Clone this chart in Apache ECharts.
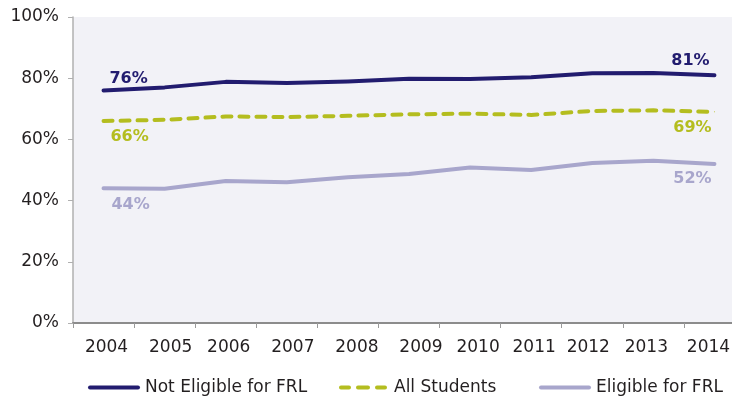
<!DOCTYPE html>
<html>
<head>
<meta charset="utf-8">
<script src="https://cdn.jsdelivr.net/npm/echarts@6/dist/echarts.min.js"></script>
<style>
  html, body { margin: 0; padding: 0; background: #ffffff; }
  #chart { width: 732px; height: 397px; }
</style>
</head>
<body>
<div id="chart"></div>
<script>
// School years on the horizontal axis
const years = ['2004', '2005', '2006', '2007', '2008', '2009', '2010', '2011', '2012', '2013', '2014'];

// Percentages per group
const notEligible = [76, 77, 78.8, 78.4, 78.9, 79.8, 79.7, 80.3, 81.6, 81.7, 81];
const allStudents = [66, 66.4, 67.5, 67.3, 67.7, 68.2, 68.4, 68.0, 69.3, 69.5, 69];
const eligible = [44, 43.9, 46.4, 46.0, 47.6, 48.7, 50.8, 50.0, 52.3, 53.0, 52];

const yTicks = [0, 20, 40, 60, 80, 100];

const FONT = 'DejaVu Sans';
const NAVY = '#221c6f';
const OLIVE = '#b4bd1f';
const LAVENDER = '#a8a6cc';

// Horizontal nudges (px) for each year label under its point
const labelNudge = [3, 6, 3, 6, 9, 12, 8, 3, -4, -7, -6];
const yearRich = {};
labelNudge.forEach(function (s, i) {
  yearRich['y' + i] = {
    fontFamily: FONT,
    fontSize: 17,
    color: '#231f20',
    padding: s >= 0 ? [0, 0, 0, 2 * s] : [0, -2 * s, 0, 0]
  };
});

// Legend swatches: a solid bar and a three-dash bar
const SOLID_ICON = 'path://M2,0H50A2,2 0 0 1 50,4H2A2,2 0 0 1 2,0Z';
const DASH_ICON = 'path://M2,0H10A2,2 0 0 1 10,4H2A2,2 0 0 1 2,0Z' +
  'M19,0H29A2,2 0 0 1 29,4H19A2,2 0 0 1 19,0Z' +
  'M38,0H46A2,2 0 0 1 46,4H38A2,2 0 0 1 38,0Z';

// Attach end-point labels (first and last year) to a series' data
function withEndLabels(values, color, firstOffset, lastOffset) {
  return values.map(function (v, i) {
    if (i === 0 || i === values.length - 1) {
      return {
        value: v,
        symbol: 'circle',
        symbolSize: 1,
        label: {
          show: true,
          position: 'inside',
          offset: i === 0 ? firstOffset : lastOffset,
          formatter: Math.round(v) + '%',
          color: color,
          fontFamily: FONT,
          fontWeight: 'bold',
          fontSize: 16
        }
      };
    }
    return v;
  });
}

function lineSeries(name, values, color, dashed, firstOffset, lastOffset) {
  return {
    name: name,
    type: 'line',
    data: withEndLabels(values, color, firstOffset, lastOffset),
    symbol: 'none',
    itemStyle: { color: color },
    lineStyle: {
      color: color,
      width: 4,
      type: dashed ? [9, 8] : 'solid',
      cap: 'round',
      join: 'round'
    },
    emphasis: { disabled: true },
    silent: true,
    z: dashed ? 3 : 2
  };
}

function legendAt(left, name, icon) {
  return {
    data: [{ name: name, icon: icon }],
    left: left,
    top: 379,
    padding: 0,
    itemWidth: 52,
    itemHeight: 4,
    selectedMode: false,
    textStyle: { fontFamily: FONT, fontSize: 17, color: '#231f20' }
  };
}

const chart = echarts.init(document.getElementById('chart'), null, { renderer: 'canvas' });

chart.setOption({
  animation: false,
  backgroundColor: '#ffffff',
  grid: {
    left: 73,
    right: -13,
    top: 17,
    bottom: 74,
    outerBoundsMode: 'none',
    containLabel: false,
    show: true,
    backgroundColor: '#f2f2f7',
    borderWidth: 0
  },
  legend: [
    legendAt(88, 'Not Eligible for FRL', SOLID_ICON),
    legendAt(339, 'All Students', DASH_ICON),
    legendAt(539, 'Eligible for FRL', SOLID_ICON)
  ],
  xAxis: {
    type: 'category',
    data: years,
    boundaryGap: true,
    axisLine: { lineStyle: { color: '#8c8c8c', width: 2 } },
    axisTick: { show: true, interval: 0, length: 5, lineStyle: { color: '#9a9a9a', width: 1 } },
    axisLabel: {
      interval: 0,
      hideOverlap: false,
      fontFamily: FONT,
      fontSize: 17,
      color: '#231f20',
      margin: 16,
      formatter: function (value, index) { return '{y' + index + '|' + value + '}'; },
      rich: yearRich
    },
    splitLine: { show: false }
  },
  yAxis: {
    type: 'value',
    min: 0,
    max: 100,
    interval: 20,
    axisLine: { show: true, lineStyle: { color: '#b0b0b0', width: 1.5 } },
    axisTick: { show: true, length: 5, lineStyle: { color: '#b0b0b0', width: 1 } },
    axisLabel: {
      fontFamily: FONT,
      fontSize: 17,
      color: '#231f20',
      margin: 14,
      formatter: function (v) { return yTicks.indexOf(v) >= 0 ? v + '%' : ''; }
    },
    splitLine: { show: false }
  },
  series: [
    lineSeries('Not Eligible for FRL', notEligible, NAVY, false, [25, -12], [-24, -14]),
    lineSeries('All Students', allStudents, OLIVE, true, [26, 16], [-22, 16]),
    lineSeries('Eligible for FRL', eligible, LAVENDER, false, [27, 16], [-22, 15])
  ]
});
</script>
</body>
</html>
